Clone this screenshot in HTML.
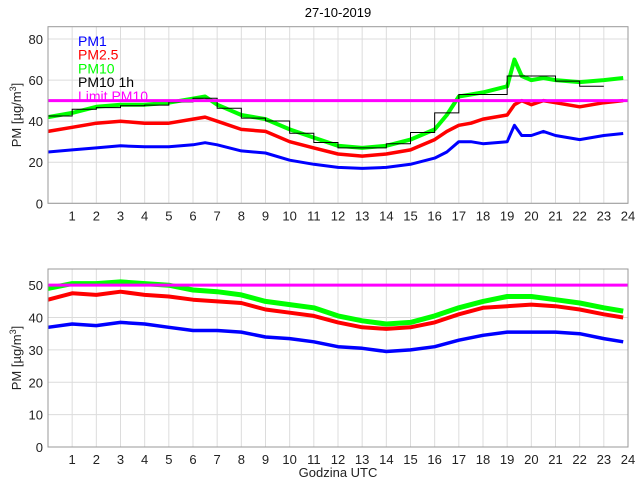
<!DOCTYPE html>
<html><head><meta charset="utf-8"><style>
body{margin:0;background:#fff;}
svg{display:block;font-family:"Liberation Sans",sans-serif;}
</style></head><body>
<svg id="c" width="640" height="480"></svg>
<script>
const xTicks=[1,2,3,4,5,6,7,8,9,10,11,12,13,14,15,16,17,18,19,20,21,22,23,24];
const topYTicks=[0,20,40,60,80];
const botYTicks=[0,10,20,30,40,50];
const topHours=[0,1,2,3,4,5,6,6.5,7,8,9,10,11,12,13,14,15,16,16.5,17,17.5,18,19,19.3,19.6,20,20.5,21,22,23,23.8];
const topPM1=[25,26,27,28,27.5,27.5,28.5,29.5,28.5,25.5,24.5,21,19,17.5,17,17.5,19,22,25,30,30,29,30,38,33,33,35,33,31,33,34];
const topPM25=[35,37,39,40,39,39,41,42,40,36,35,30,27,24,23,24,26,31,35,38,39,41,43,48,50,48,50,49,47,49,50];
const topPM10=[42,44,47,48,48,49,51,52,48,43,41,36,32,28,27,28,31,36,43,52,53,54,57,70,62,60,61,60,59,60,61];
const hourly1h=[42.5,45.8,46.6,47.5,47.8,49.4,51.2,46.3,41.5,40.1,34.1,29.6,27,27,29,34.5,44,53,53,62,62,59.5,57];
const botHours=[0,1,2,3,4,5,6,7,8,9,10,11,12,13,14,15,16,17,18,19,20,21,22,23,23.8];
const botPM1=[37,38,37.5,38.5,38,37,36,36,35.5,34,33.5,32.5,31,30.5,29.5,30,31,33,34.5,35.5,35.5,35.5,35,33.5,32.5];
const botPM25=[45.5,47.5,47,48,47,46.5,45.5,45,44.5,42.5,41.5,40.5,38.5,37,36.5,37,38.5,41,43,43.5,44,43.5,42.5,41,40];
const botPM10=[49,50.5,50.5,51,50.5,50,48.5,48,47,45,44,43,40.5,39,38,38.5,40.5,43,45,46.5,46.5,45.5,44.5,43,42];
const limit=50;
const NS="http://www.w3.org/2000/svg";
const svg=document.getElementById('c');
function mk(tag,attrs,parent){const e=document.createElementNS(NS,tag);for(const k in attrs)e.setAttribute(k,attrs[k]);(parent||svg).appendChild(e);return e;}
const X0=48,X1=628;
const xs=h=>X0+(X1-X0)*h/24;
function panel(name,top,bottom,ymax,yticks,series,steps,xlabel){
  const ys=v=>bottom-(bottom-top)*v/ymax;
  const g=mk('g',{});
  
  
  mk('rect',{x:X0,y:top,width:X1-X0,height:bottom-top,fill:'#fff'},g);
  xTicks.forEach(t=>{
    const l=mk('line',{x1:xs(t),x2:xs(t),y1:top,y2:bottom,stroke:'#dcdcdc','stroke-width':1},g);
    
    
    const tx=mk('text',{x:xs(t),y:bottom+17,'text-anchor':'middle','font-size':13,fill:'#222'},g);
    tx.textContent=t;
    
    
  });
  yticks.forEach(t=>{
    mk('line',{x1:X0,x2:X1,y1:ys(t),y2:ys(t),stroke:'#dcdcdc','stroke-width':1},g);
    const tx=mk('text',{x:X0-5,y:ys(t)+5,'text-anchor':'end','font-size':13,fill:'#222'},g);
    tx.textContent=t;
    
    
  });
  series.forEach(s=>{
    const d=s.h.map((h,i)=>(i?'L':'M')+xs(h).toFixed(1)+' '+ys(s.v[i]).toFixed(1)).join(' ');
    const p=mk('path',{d:d,fill:'none',stroke:s.c,'stroke-width':s.w,'stroke-linejoin':'round'},g);
    
    
  });
  if(steps){
    let d='';
    steps.forEach((v,i)=>{d+=(i?'L':'M')+xs(i)+' '+ys(v).toFixed(1)+' L'+xs(i+1)+' '+ys(v).toFixed(1)+' ';});
    const p=mk('path',{d:d,fill:'none',stroke:'#000','stroke-width':1},g);
    
    
  }
  const lim=mk('line',{x1:X0,x2:X1,y1:ys(limit),y2:ys(limit),stroke:'#ff00ff','stroke-width':3},g);
  
  
  mk('rect',{x:X0,y:top,width:X1-X0,height:bottom-top,fill:'none',stroke:'#999','stroke-width':1},g);
  const cy=(top+bottom)/2;
  const yl=mk('text',{x:0,y:0,transform:`translate(21,${cy}) rotate(-90)`,'text-anchor':'middle','font-size':13,fill:'#222'},g);
  yl.innerHTML='PM [µg/m<tspan dy="-5" font-size="9">3</tspan><tspan dy="5">]</tspan>';
  
  
  if(xlabel){
    const xl=mk('text',{x:338,y:bottom+30,'text-anchor':'middle','font-size':13,fill:'#222'},g);
    xl.textContent=xlabel;
    
    
  }
}
panel('top-panel',26.7,203.3,86,topYTicks,[
  {h:topHours,v:topPM10,c:'#00ff00',w:4,n:'pm10-line'},
  {h:topHours,v:topPM25,c:'#ff0000',w:3.5,n:'pm25-line'},
  {h:topHours,v:topPM1,c:'#0000ff',w:3,n:'pm1-line'}],hourly1h,null);
panel('bottom-panel',269,447,55,botYTicks,[
  {h:botHours,v:botPM10,c:'#00ff00',w:5,n:'pm10-line'},
  {h:botHours,v:botPM25,c:'#ff0000',w:4,n:'pm25-line'},
  {h:botHours,v:botPM1,c:'#0000ff',w:3.5,n:'pm1-line'}],null,'Godzina UTC');
const title=mk('text',{x:338,y:17,'text-anchor':'middle','font-size':13,fill:'#000'});
title.textContent='27-10-2019';


const leg=[['PM1','#0000ff'],['PM2.5','#ff0000'],['PM10','#00ff00'],['PM10 1h','#000'],['Limit PM10','#ff00ff']];
leg.forEach((l,i)=>{
  const t=mk('text',{x:78,y:46+i*13.7,'font-size':14,fill:l[1]});
  t.textContent=l[0];
  
  
});
</script>
</body></html>
